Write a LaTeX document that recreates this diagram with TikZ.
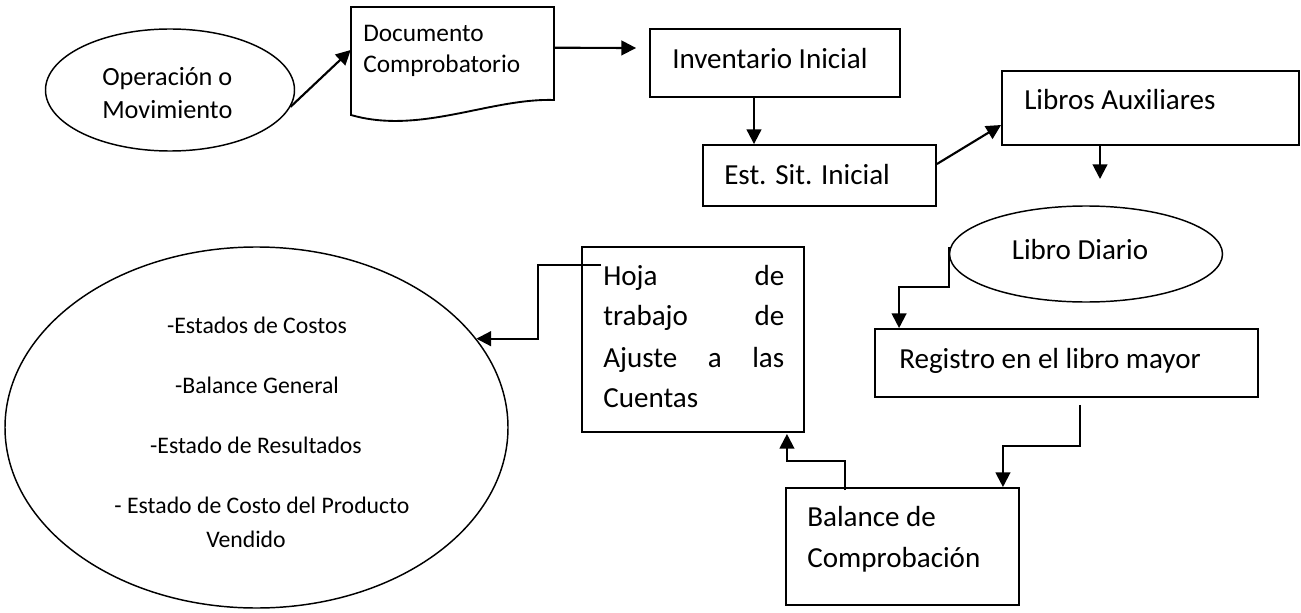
\documentclass[tikz,border=0pt]{standalone}
\usepackage{fontspec}
\setmainfont{Carlito}
\usetikzlibrary{arrows.meta,shapes.geometric,calc,fit}
\begin{document}
\begin{tikzpicture}[x=0.75pt,y=-0.75pt,
  boxn/.style={draw=black, line width=1.4pt, rectangle, inner sep=0pt},
  ghost/.style={rectangle, inner sep=0pt},
  ell/.style={draw=black, line width=1.1pt, ellipse, inner sep=0pt},
  conn/.style={line width=1.6pt, -{Triangle[length=11pt,width=11pt]}},
  lbl/.style={inner sep=0pt, anchor=base west, font=\fontsize{21.8}{26}\selectfont},
  lblop/.style={inner sep=0pt, anchor=base west, font=\fontsize{19.7}{24}\selectfont},
  lbldoc/.style={inner sep=0pt, anchor=base west, font=\fontsize{19}{23}\selectfont},
  lbllist/.style={inner sep=0pt, anchor=base, font=\fontsize{17.8}{21}\selectfont}]
\useasboundingbox (0,0) rectangle (1301,613);

% shapes
\node[ell, minimum width=186.75pt, minimum height=91.5pt] (op) at (170,90) {};
\draw[line width=1.4pt] (351,7) -- (554,7) -- (554,100)
   .. controls (490,98) and (420,135) .. (351,115) -- cycle;
\node[ghost, fit={(351,7) (554,115)}] (doc) {};
\node[boxn, fit={(650,29) (900,97)}] (inv) {};
\node[boxn, fit={(703,145) (936,206)}] (est) {};
\node[boxn, fit={(1002,71) (1299,145)}] (lib) {};
\node[ell, minimum width=204.75pt, minimum height=72pt] (diario) at (1086,254) {};
\node[boxn, fit={(875,329) (1258,397)}] (reg) {};
\node[boxn, fit={(786,488) (1019,605)}] (bal) {};
\node[boxn, fit={(582,247) (804,432)}] (hoja) {};
\node[ell, minimum width=377.25pt, minimum height=270.75pt] (big) at (256.5,427.5) {};

% texts
\node[lblop] (t1) at (102,85.7) {Operación o};
\node[lblop] (t2) at (102,118.3) {Movimiento};
\node[lbldoc] (t3) at (363,41.7) {Documento};
\node[lbldoc] (t4) at (363,72.7) {Comprobatorio};
\node[lbl] (t5) at (672,68.3) {Inventario Inicial};
\node[lbl] (t6) at (724,184) {Est. Sit. Inicial};
\node[lbl] (t7) at (1024,110) {Libros Auxiliares};
\node[lbl, anchor=base] (t8) at (1080,259) {Libro Diario};
\node[lbl] (t9) at (899,368.3) {Registro en el libro mayor};
\node[lbl] (t10) at (807,526) {Balance de};
\node[lbl] (t11) at (807,567.7) {Comprobación};
\node[lbl] (t12) at (603,285) {\hbox to 135.75pt{Hoja\hfill de}};
\node[lbl] (t13) at (603,325.3) {\hbox to 135.75pt{trabajo\hfill de}};
\node[lbl] (t14) at (603,367) {\hbox to 135.75pt{Ajuste\hfill a\hfill las}};
\node[lbl] (t15) at (603,407.7) {Cuentas};
\node[lbllist] (t16) at (257,333) {-Estados de Costos};
\node[lbllist] (t17) at (257,393) {-Balance General};
\node[lbllist] (t18) at (256,453) {-Estado de Resultados};
\node[lbllist] (t19) at (262,513) {- Estado de Costo del Producto};
\node[lbllist] (t20) at (246,547) {Vendido};

% connectors
\coordinate (libend) at (1100,179);
\draw[conn] (op.-8) -- ($(doc.west)+(0,-11)$);
\draw[conn] ($(doc.north east)+(0,41)$) -- ($(inv.west)+(-13,-15)$);
\draw[conn] ($(inv.south)+(-21,0)$) -- ($(est.north)+(-65.5,0)$);
\draw[conn] ($(est.east)+(0,-11.5)$) -- ($(lib.west)+(0,17)$);
\draw[conn] ($(lib.south)+(-50.5,0)$) -- (libend);
\draw[conn] ($(diario.west)+(0,-7)$) -- ++(0,40) -| ($(reg.north west)+(25,0)$);
\draw[conn] ($(reg.south)+(13.5,7)$) -- ++(0,41) -| ($(bal.north east)+(-17,0)$);
\draw[conn] ($(bal.north west)+(60,3)$) -- ++(0,-29) -| ($(hoja.south east)+(-18,1)$);
\draw[conn] ($(hoja.north west)+(20,19)$) -- ++(-63,0) |- (big.22);
\end{tikzpicture}
\end{document}
